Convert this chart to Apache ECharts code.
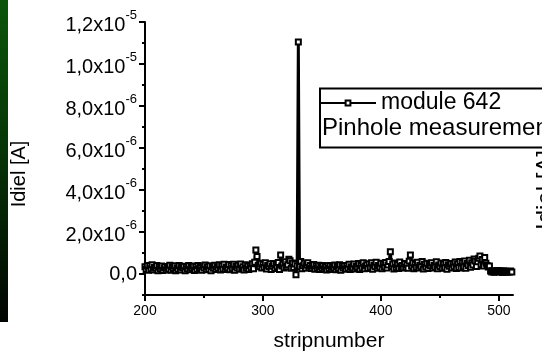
<!DOCTYPE html>
<html><head><meta charset="utf-8">
<script src="https://cdn.jsdelivr.net/npm/echarts@6/dist/echarts.min.js"></script>
<style>html,body{margin:0;padding:0;background:#fff}#c{width:542px;height:353px}</style>
</head><body><div id="c"></div>
<script>
// strip numbers start at 200, one value per strip up to 511
const firstStrip = 200;
// Idiel values in units of 1e-7 A
const idielE7 = [
  3.5, 2.2, 4.1, 1.8, 3.9, 2.5, 4.4, 1.9, 3.2, 2.7,
  4.0, 1.6, 3.3, 2.4, 3.8, 1.7, 2.9, 3.6, 1.9, 3.1,
  2.3, 4.2, 1.8, 3.4, 2.6, 3.9, 1.5, 3.0, 2.2, 4.0,
  1.9, 3.3, 2.8, 3.7, 1.6, 3.5, 2.4, 4.1, 2.0, 3.2,
  2.6, 3.8, 1.7, 3.4, 2.1, 4.0, 2.5, 3.1, 1.8, 3.7,
  2.9, 4.3, 2.0, 3.5, 2.3, 3.9, 1.6, 3.6, 2.7, 4.2,
  2.1, 3.4, 2.6, 4.4, 1.9, 3.8, 2.4, 4.6, 2.2, 3.3,
  2.8, 4.5, 2.0, 3.9, 2.5, 4.7, 1.8, 3.6, 2.9, 4.2,
  2.3, 4.8, 2.6, 3.5, 1.9, 4.4, 2.7, 3.8, 2.2, 4.1,
  3.0, 4.9, 2.5, 5.6, 11.4, 8.3, 4.2, 3.5, 5.1, 2.8,
  4.6, 3.1, 5.3, 2.4, 4.0, 3.6, 4.9, 2.2, 3.7, 5.0,
  2.6, 4.3, 3.4, 5.5, 2.1, 9.0, 3.8, 4.7, 2.9, 5.8,
  3.5, 4.4, 7.0, 6.3, 2.7, 5.2, 3.1, 4.8, -0.4, 3.9,
  110.5, 3.4, 6.0, 2.5, 3.9, 5.1, 2.8, 4.2, 5.4, 3.0,
  4.1, 2.6, 3.7, 4.5, 2.3, 3.9, 2.9, 4.2, 2.1, 3.6,
  2.7, 4.0, 2.4, 3.5, 1.9, 3.8, 2.6, 4.1, 2.2, 3.3,
  2.9, 4.3, 2.0, 3.6, 2.5, 4.4, 1.8, 3.7, 2.8, 4.0,
  2.3, 3.9, 2.7, 4.6, 2.1, 3.5, 2.9, 4.8, 2.4, 3.7,
  3.1, 5.0, 2.2, 4.1, 2.8, 5.3, 2.5, 3.8, 4.4, 2.6,
  4.9, 3.0, 5.4, 2.3, 4.2, 3.5, 5.6, 2.7, 4.0, 3.2,
  5.1, 2.5, 4.6, 3.3, 5.5, 2.8, 4.3, 6.0, 10.6, 3.6,
  4.8, 2.4, 5.2, 3.0, 4.5, 2.6, 5.7, 3.4, 4.1, 2.9,
  5.0, 3.2, 4.4, 2.7, 6.1, 9.0, 3.8, 5.3, 2.5, 4.6,
  3.1, 5.6, 2.8, 4.2, 3.5, 5.9, 2.4, 4.7, 3.3, 5.1,
  2.6, 4.5, 3.8, 5.4, 2.9, 4.0, 3.2, 5.8, 2.5, 4.3,
  3.6, 5.2, 2.7, 4.8, 3.0, 5.5, 2.3, 4.4, 3.7, 5.0,
  2.8, 4.6, 3.4, 5.7, 2.6, 4.9, 3.1, 6.0, 2.9, 5.3,
  3.5, 6.2, 2.7, 5.0, 4.1, 6.6, 3.2, 5.4, 4.3, 7.1,
  6.2, 3.6, 5.8, 7.5, 8.6, 4.4, 6.9, 3.8, 7.8, 5.1,
  4.0, 3.3, 3.8, 1.4, 1.0, 1.6, 0.8, 1.3, 1.1, 1.7,
  0.9, 1.4, 1.2, 0.7, 1.5, 1.0, 1.3, 0.8, 1.2, 1.0,
  1.4, 0.9
];
const unitA = 1e-7;
const seriesName = 'module 642';
const legendSubtitle = 'Pinhole measurement';
const yAxisTitle = 'Idiel [A]';
const xAxisTitle = 'stripnumber';

const xMajorTicks = [200, 300, 400, 500];
const xMinorTicks = [250, 350, 450];
const yMajorTicks = [0, 2e-6, 4e-6, 6e-6, 8e-6, 1.0e-5, 1.2e-5];
const yTickMantissa = ['0,0', '2,0', '4,0', '6,0', '8,0', '1,0', '1,2'];
const yTickExponent = ['', '-6', '-6', '-6', '-6', '-5', '-5'];
const yMinorTicks = [-1e-6, 1e-6, 3e-6, 5e-6, 7e-6, 9e-6, 1.1e-5];

const FONT = '"Liberation Sans", Arial, sans-serif';
const data = idielE7.map((v, i) => [firstStrip + i, v * unitA]);

function nearestIdx(arr, v) {
  let b = 0;
  for (let i = 1; i < arr.length; i++) if (Math.abs(arr[i] - v) < Math.abs(arr[b] - v)) b = i;
  return b;
}

const chart = echarts.init(document.getElementById('c'), null, {renderer: 'canvas'});
chart.setOption({
  animation: false,
  backgroundColor: '#fff',
  grid: {left: 145, right: 29, top: 22, bottom: 58, containLabel: false, outerBoundsMode: 'none'},
  legend: {
    data: [seriesName],
    left: 319, top: 91,
    itemWidth: 56, itemHeight: 6, itemGap: 5,
    padding: 0,
    textStyle: {fontSize: 23, color: '#000', fontFamily: FONT, lineHeight: 24},
    z: 6
  },
  xAxis: [{
    type: 'value', min: 200, max: 512, position: 'bottom',
    name: xAxisTitle, nameLocation: 'middle', nameGap: 36,
    nameTextStyle: {fontSize: 21, color: '#000', fontFamily: FONT},
    axisLine: {onZero: false, lineStyle: {color: '#000', width: 2}},
    axisTick: {customValues: xMajorTicks, length: 6, lineStyle: {color: '#000', width: 2}},
    axisLabel: {customValues: xMajorTicks, margin: 9, fontSize: 14, color: '#000', fontFamily: FONT},
    splitLine: {show: false}
  }, {
    type: 'value', min: 200, max: 512, position: 'bottom',
    axisLine: {show: false, onZero: false},
    axisTick: {customValues: xMinorTicks, length: 3, lineStyle: {color: '#000', width: 2}},
    axisLabel: {show: false},
    splitLine: {show: false}
  }],
  yAxis: [{
    type: 'value', min: -1e-6, max: 1.2e-5, position: 'left',
    axisLine: {show: true, onZero: false, lineStyle: {color: '#000', width: 2}},
    axisTick: {show: true, customValues: yMajorTicks, length: 6, lineStyle: {color: '#000', width: 2}},
    axisLabel: {
      customValues: yMajorTicks, margin: 8, color: '#000', fontFamily: FONT,
      formatter: function (v) {
        const i = nearestIdx(yMajorTicks, v);
        return yTickExponent[i] ? '{m|' + yTickMantissa[i] + 'x10}{e|' + yTickExponent[i] + '}' : '{p|' + yTickMantissa[i] + '}';
      },
      rich: {
        m: {fontSize: 20, lineHeight: 26, verticalAlign: 'bottom', color: '#000', fontFamily: FONT},
        e: {fontSize: 13, lineHeight: 12, verticalAlign: 'top', color: '#000', fontFamily: FONT},
        p: {fontSize: 20, lineHeight: 20, color: '#000', fontFamily: FONT}
      }
    },
    splitLine: {show: false}
  }, {
    type: 'value', min: -1e-6, max: 1.2e-5, position: 'left',
    axisLine: {show: false, onZero: false},
    axisTick: {show: true, customValues: yMinorTicks, length: 3, lineStyle: {color: '#000', width: 2}},
    axisLabel: {show: false},
    splitLine: {show: false}
  }],
  series: [{
    name: seriesName, type: 'line', data: data,
    xAxisIndex: 0, yAxisIndex: 0,
    symbol: 'rect', symbolSize: 5, showSymbol: true, showAllSymbol: true,
    itemStyle: {color: '#fff', borderColor: '#000', borderWidth: 2},
    lineStyle: {color: '#000', width: 3},
    emphasis: {disabled: true}
  }],
  graphic: [
    {type: 'rect', left: 0, top: 0, shape: {x: 0, y: 0, width: 8, height: 322},
     style: {fill: new echarts.graphic.LinearGradient(0, 0, 0, 1, [
       {offset: 0, color: '#0b550b'}, {offset: 0.5, color: '#063306'}, {offset: 1, color: '#010501'}])}},
    {type: 'rect', z: 5, shape: {x: 320, y: 88.5, width: 240, height: 59},
     style: {fill: '#fff', stroke: '#000', lineWidth: 2}},
    {type: 'text', z: 7, x: 322, y: 128,
     style: {text: legendSubtitle, fontSize: 24, fontFamily: FONT, fill: '#000', verticalAlign: 'middle'}},
    {type: 'text', x: 19, y: 174, rotation: Math.PI / 2,
     style: {text: yAxisTitle, fontSize: 20, fontFamily: FONT, fill: '#000', align: 'center', verticalAlign: 'middle'}},
    {type: 'text', x: 546, y: 190, rotation: Math.PI / 2,
     style: {text: yAxisTitle, fontSize: 24, fontFamily: FONT, fill: '#000', align: 'center', verticalAlign: 'middle'}}
  ]
});
</script></body></html>
